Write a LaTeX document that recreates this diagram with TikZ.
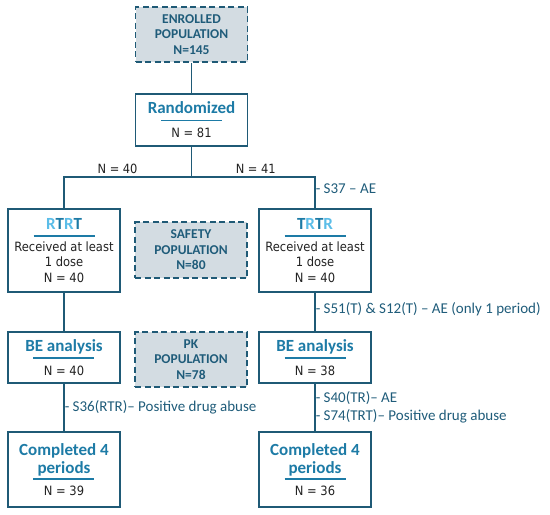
\documentclass[tikz,border=0pt]{standalone}
\usepackage{fontspec}
\usepackage{xcolor}
\setmainfont{DejaVu Sans Condensed}
\newfontfamily\headfont{Carlito}
\usetikzlibrary{
    positioning,
    calc
}
\definecolor{AzulLinha}{HTML}{1F5A76}
\definecolor{AzulTitulo}{HTML}{1D7BA6}
\definecolor{AzulClaro}{HTML}{5BBDE8}
\definecolor{AzulTexto}{HTML}{1F5C7A}
\definecolor{CinzaFundo}{HTML}{D3DCE2}
\definecolor{CinzaTexto}{HTML}{222222}

\newcommand\titulo[1]{{\headfont\bfseries\fontsize{17}{19}\selectfont\color{AzulTitulo}#1}}
\newcommand\traco{\textcolor{AzulTitulo}{\rule[4pt]{61pt}{1.5pt}}}
\newcommand\claro[1]{\textcolor{AzulClaro}{#1}}

\begin{document}
\begin{tikzpicture}[
    x=1pt, y=-1pt,
    caixa/.style={
        draw=AzulLinha,
        line width=1.5pt,
        fill=white,
        minimum width=112pt,
        align=center,
        inner sep=2pt,
        text=CinzaTexto,
        font=\fontsize{12.8}{15.5}\selectfont
    },
    populacao/.style={
        draw=AzulLinha,
        line width=1.6pt,
        dash pattern=on 6pt off 3.5pt,
        fill=CinzaFundo,
        minimum width=112pt,
        align=center,
        text=AzulTexto,
        font=\headfont\bfseries\fontsize{13.5}{15.5}\selectfont
    },
    rotulo/.style={
        anchor=west,
        inner sep=0pt,
        align=left,
        text=AzulTexto,
        font=\headfont\fontsize{15}{18}\selectfont
    },
    numero/.style={
        above,
        inner sep=3pt,
        text=CinzaTexto,
        font=\fontsize{12.7}{14}\selectfont
    },
    ligacao/.style={draw=AzulLinha, line width=1.5pt}
]
\useasboundingbox (0,0) rectangle (550,515);

% topo
\node[populacao, minimum height=55pt] (inscritos) at (191.5,34.5)
    {ENROLLED\\POPULATION\\N=145};
\node[caixa, minimum height=52pt] (randomizado) at (191.5,120)
    {\titulo{Randomized}\\[-4pt]\traco\\[-3pt]N = 81};
\coordinate (divisao) at (191.5,177);

% bracos
\node[caixa, minimum height=83pt] (rtrt) at (64,250.5)
    {\titulo{\claro{R}T\claro{R}T}\\[-4pt]\traco\\[-5pt]Received at least\\1 dose\\N = 40};
\node[caixa, minimum height=83pt] (trtr) at (315,250.5)
    {\titulo{T\claro{R}T\claro{R}}\\[-4pt]\traco\\[-5pt]Received at least\\1 dose\\N = 40};
\node[populacao, minimum height=56pt] (seguranca) at (191,250)
    {SAFETY\\POPULATION\\N=80};

% analise
\node[caixa, minimum height=51pt] (beesq) at (64,357.5)
    {\titulo{BE analysis}\\[-4pt]\traco\\[-3pt]N = 40};
\node[caixa, minimum height=51pt] (bedir) at (315,357.5)
    {\titulo{BE analysis}\\[-4pt]\traco\\[-3pt]N = 38};
\node[populacao, minimum height=55pt] (pk) at (191,359.5)
    {PK\\POPULATION\\N=78};

% fim
\node[caixa, minimum height=75pt] (fimesq) at (64,469.5)
    {\titulo{Completed 4}\\[2.5pt]\titulo{periods}\\[-5pt]\traco\\[-4pt]N = 39};
\node[caixa, minimum height=75pt] (fimdir) at (315,469.5)
    {\titulo{Completed 4}\\[2.5pt]\titulo{periods}\\[-5pt]\traco\\[-4pt]N = 36};

% ligacoes
\draw[ligacao] (inscritos) -- (randomizado);
\draw[ligacao] (randomizado) -- (divisao);
\draw[ligacao] (divisao) -| node[numero, pos=0.29] (n40) {N = 40} (rtrt.north);
\draw[ligacao] (divisao) -| node[numero, pos=0.26] (n41) {N = 41}
    node[rotulo, pos=0.69] (s37) {- S37 – AE} (trtr.north);
\draw[ligacao] (rtrt) -- (beesq);
\draw[ligacao] (trtr) -- node[rotulo, pos=0.43] (s51) {- S51(T) \& S12(T) – AE (only 1 period)} (bedir);
\draw[ligacao] (beesq) -- node[rotulo] (s36) {- S36(RTR)– Positive drug abuse} (fimesq);
\draw[ligacao] (bedir) -- node[rotulo] (s40) {- S40(TR)– AE\\- S74(TRT)– Positive drug abuse} (fimdir);
\end{tikzpicture}
\end{document}
